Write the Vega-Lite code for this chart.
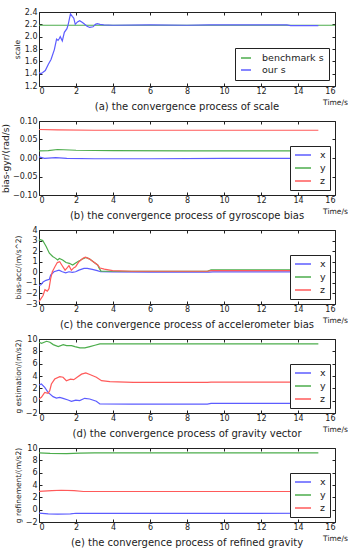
{
  "$schema": "https://vega.github.io/schema/vega-lite/v6.json",
  "padding": {"left": 0, "top": 7, "right": 0, "bottom": 0},
  "bounds": "flush",
  "spacing": 35,
  "config": {
    "font": "DejaVu Sans",
    "view": {"stroke": "#222", "strokeWidth": 1},
    "axis": {
      "grid": false,
      "domain": false,
      "tickSize": -3,
      "tickColor": "#222",
      "labelFontSize": 8,
      "labelColor": "#222",
      "labelPadding": 5,
      "titleFontSize": 7.5,
      "titleFontWeight": "normal",
      "titleColor": "#222",
      "titlePadding": 3
    },
    "legend": {
      "orient": "bottom-right",
      "offset": 5,
      "strokeColor": "#222",
      "fillColor": "white",
      "padding": 4,
      "symbolType": "M-1,0H3",
      "symbolSize": 64,
      "symbolStrokeWidth": 1.5,
      "labelFontSize": 9.5,
      "labelColor": "#222",
      "labelOffset": 16,
      "rowPadding": 3
    },
    "title": {"fontSize": 10, "fontWeight": "normal", "color": "#222", "orient": "bottom", "offset": -4, "anchor": "middle"}
  },
  "resolve": {"scale": {"color": "independent"}, "legend": {"color": "independent"}},
  "datasets": {
    "a": [
      {"t": 0, "v": 2.185, "s": "benchmark s"},
      {"t": 16, "v": 2.185, "s": "benchmark s"},
      {"t": 0, "v": 1.42, "s": "our s"},
      {"t": 0.1, "v": 1.4, "s": "our s"},
      {"t": 0.2, "v": 1.42, "s": "our s"},
      {"t": 0.34, "v": 1.45, "s": "our s"},
      {"t": 0.5, "v": 1.55, "s": "our s"},
      {"t": 0.65, "v": 1.63, "s": "our s"},
      {"t": 0.83, "v": 1.79, "s": "our s"},
      {"t": 0.95, "v": 1.96, "s": "our s"},
      {"t": 1.03, "v": 1.94, "s": "our s"},
      {"t": 1.1, "v": 1.97, "s": "our s"},
      {"t": 1.15, "v": 2.0, "s": "our s"},
      {"t": 1.26, "v": 1.93, "s": "our s"},
      {"t": 1.37, "v": 2.07, "s": "our s"},
      {"t": 1.51, "v": 2.13, "s": "our s"},
      {"t": 1.58, "v": 2.2, "s": "our s"},
      {"t": 1.7, "v": 2.37, "s": "our s"},
      {"t": 1.8, "v": 2.33, "s": "our s"},
      {"t": 1.88, "v": 2.3, "s": "our s"},
      {"t": 1.96, "v": 2.2, "s": "our s"},
      {"t": 2.08, "v": 2.24, "s": "our s"},
      {"t": 2.2, "v": 2.26, "s": "our s"},
      {"t": 2.35, "v": 2.23, "s": "our s"},
      {"t": 2.47, "v": 2.2, "s": "our s"},
      {"t": 2.6, "v": 2.17, "s": "our s"},
      {"t": 2.74, "v": 2.15, "s": "our s"},
      {"t": 2.92, "v": 2.16, "s": "our s"},
      {"t": 3.05, "v": 2.2, "s": "our s"},
      {"t": 3.15, "v": 2.21, "s": "our s"},
      {"t": 3.3, "v": 2.2, "s": "our s"},
      {"t": 3.5, "v": 2.19, "s": "our s"},
      {"t": 4, "v": 2.185, "s": "our s"},
      {"t": 6, "v": 2.19, "s": "our s"},
      {"t": 8, "v": 2.185, "s": "our s"},
      {"t": 9.2, "v": 2.19, "s": "our s"},
      {"t": 10, "v": 2.19, "s": "our s"},
      {"t": 12, "v": 2.19, "s": "our s"},
      {"t": 13.4, "v": 2.19, "s": "our s"},
      {"t": 13.6, "v": 2.18, "s": "our s"},
      {"t": 15.1, "v": 2.18, "s": "our s"}
    ],
    "b": [
      {"t": 0, "v": 0.003, "s": "x"},
      {"t": 0.3, "v": -0.001, "s": "x"},
      {"t": 0.9, "v": 0.001, "s": "x"},
      {"t": 1.5, "v": -0.001, "s": "x"},
      {"t": 3, "v": -0.002, "s": "x"},
      {"t": 6, "v": -0.002, "s": "x"},
      {"t": 10, "v": -0.001, "s": "x"},
      {"t": 15.1, "v": -0.001, "s": "x"},
      {"t": 0, "v": 0.019, "s": "y"},
      {"t": 0.5, "v": 0.02, "s": "y"},
      {"t": 1, "v": 0.023, "s": "y"},
      {"t": 2, "v": 0.021, "s": "y"},
      {"t": 4, "v": 0.02, "s": "y"},
      {"t": 8, "v": 0.019, "s": "y"},
      {"t": 12, "v": 0.019, "s": "y"},
      {"t": 15.1, "v": 0.019, "s": "y"},
      {"t": 0, "v": 0.077, "s": "z"},
      {"t": 1, "v": 0.076, "s": "z"},
      {"t": 3, "v": 0.075, "s": "z"},
      {"t": 8, "v": 0.075, "s": "z"},
      {"t": 15.1, "v": 0.075, "s": "z"}
    ],
    "c": [
      {"t": 0, "v": -1.24, "s": "x"},
      {"t": 0.1, "v": -1.18, "s": "x"},
      {"t": 0.22, "v": -0.92, "s": "x"},
      {"t": 0.38, "v": -0.76, "s": "x"},
      {"t": 0.56, "v": -0.66, "s": "x"},
      {"t": 0.63, "v": -0.27, "s": "x"},
      {"t": 0.81, "v": 0.05, "s": "x"},
      {"t": 1.08, "v": 0.2, "s": "x"},
      {"t": 1.26, "v": 0.05, "s": "x"},
      {"t": 1.44, "v": -0.05, "s": "x"},
      {"t": 1.62, "v": 0.05, "s": "x"},
      {"t": 1.8, "v": 0.0, "s": "x"},
      {"t": 1.98, "v": 0.05, "s": "x"},
      {"t": 2.16, "v": 0.2, "s": "x"},
      {"t": 2.43, "v": 0.37, "s": "x"},
      {"t": 2.61, "v": 0.37, "s": "x"},
      {"t": 2.88, "v": 0.27, "s": "x"},
      {"t": 3.15, "v": 0.15, "s": "x"},
      {"t": 3.33, "v": 0.05, "s": "x"},
      {"t": 4, "v": 0.03, "s": "x"},
      {"t": 6, "v": 0.02, "s": "x"},
      {"t": 9.2, "v": 0.02, "s": "x"},
      {"t": 9.4, "v": 0.04, "s": "x"},
      {"t": 15.1, "v": 0.04, "s": "x"},
      {"t": 0, "v": 2.97, "s": "y"},
      {"t": 0.05, "v": 3.1, "s": "y"},
      {"t": 0.2, "v": 3.0, "s": "y"},
      {"t": 0.38, "v": 2.46, "s": "y"},
      {"t": 0.56, "v": 1.81, "s": "y"},
      {"t": 0.74, "v": 1.5, "s": "y"},
      {"t": 0.88, "v": 1.34, "s": "y"},
      {"t": 1.01, "v": 1.17, "s": "y"},
      {"t": 1.1, "v": 1.3, "s": "y"},
      {"t": 1.28, "v": 1.17, "s": "y"},
      {"t": 1.46, "v": 0.92, "s": "y"},
      {"t": 1.64, "v": 0.85, "s": "y"},
      {"t": 1.82, "v": 0.69, "s": "y"},
      {"t": 1.96, "v": 0.85, "s": "y"},
      {"t": 2.09, "v": 1.0, "s": "y"},
      {"t": 2.2, "v": 1.1, "s": "y"},
      {"t": 2.36, "v": 1.27, "s": "y"},
      {"t": 2.54, "v": 1.4, "s": "y"},
      {"t": 2.72, "v": 1.27, "s": "y"},
      {"t": 2.99, "v": 0.92, "s": "y"},
      {"t": 3.17, "v": 0.69, "s": "y"},
      {"t": 3.26, "v": 0.37, "s": "y"},
      {"t": 3.35, "v": 0.11, "s": "y"},
      {"t": 5, "v": 0.1, "s": "y"},
      {"t": 9.1, "v": 0.1, "s": "y"},
      {"t": 9.3, "v": 0.22, "s": "y"},
      {"t": 15.1, "v": 0.22, "s": "y"},
      {"t": 0, "v": -2.78, "s": "z"},
      {"t": 0.1, "v": -2.52, "s": "z"},
      {"t": 0.22, "v": -2.2, "s": "z"},
      {"t": 0.32, "v": -1.65, "s": "z"},
      {"t": 0.45, "v": -1.78, "s": "z"},
      {"t": 0.54, "v": -1.55, "s": "z"},
      {"t": 0.63, "v": -0.6, "s": "z"},
      {"t": 0.72, "v": 0.05, "s": "z"},
      {"t": 0.86, "v": 0.53, "s": "z"},
      {"t": 0.99, "v": 0.92, "s": "z"},
      {"t": 1.12, "v": 1.0, "s": "z"},
      {"t": 1.23, "v": 0.69, "s": "z"},
      {"t": 1.41, "v": 0.2, "s": "z"},
      {"t": 1.53, "v": 0.44, "s": "z"},
      {"t": 1.62, "v": 0.63, "s": "z"},
      {"t": 1.75, "v": 0.2, "s": "z"},
      {"t": 1.89, "v": 0.44, "s": "z"},
      {"t": 1.98, "v": 0.53, "s": "z"},
      {"t": 2.16, "v": 1.0, "s": "z"},
      {"t": 2.36, "v": 1.3, "s": "z"},
      {"t": 2.5, "v": 1.42, "s": "z"},
      {"t": 2.72, "v": 1.27, "s": "z"},
      {"t": 2.99, "v": 0.92, "s": "z"},
      {"t": 3.17, "v": 0.69, "s": "z"},
      {"t": 3.3, "v": 0.4, "s": "z"},
      {"t": 3.53, "v": 0.3, "s": "z"},
      {"t": 3.98, "v": 0.15, "s": "z"},
      {"t": 5, "v": 0.1, "s": "z"},
      {"t": 9.1, "v": 0.1, "s": "z"},
      {"t": 9.3, "v": 0.15, "s": "z"},
      {"t": 15.1, "v": 0.15, "s": "z"}
    ],
    "d": [
      {"t": 0, "v": 2.54, "s": "x"},
      {"t": 0.13, "v": 2.7, "s": "x"},
      {"t": 0.31, "v": 2.16, "s": "x"},
      {"t": 0.49, "v": 1.35, "s": "x"},
      {"t": 0.76, "v": 0.65, "s": "x"},
      {"t": 0.94, "v": 0.43, "s": "x"},
      {"t": 1.12, "v": 0.54, "s": "x"},
      {"t": 1.3, "v": 0.38, "s": "x"},
      {"t": 1.57, "v": 0.1, "s": "x"},
      {"t": 1.75, "v": -0.1, "s": "x"},
      {"t": 1.99, "v": 0.1, "s": "x"},
      {"t": 2.2, "v": 0.0, "s": "x"},
      {"t": 2.47, "v": 0.38, "s": "x"},
      {"t": 2.74, "v": 0.27, "s": "x"},
      {"t": 3.1, "v": -0.1, "s": "x"},
      {"t": 3.29, "v": -0.54, "s": "x"},
      {"t": 5, "v": -0.55, "s": "x"},
      {"t": 9.1, "v": -0.55, "s": "x"},
      {"t": 9.3, "v": -0.45, "s": "x"},
      {"t": 15.1, "v": -0.45, "s": "x"},
      {"t": 0, "v": 9.47, "s": "y"},
      {"t": 0.14, "v": 9.3, "s": "y"},
      {"t": 0.41, "v": 9.63, "s": "y"},
      {"t": 0.59, "v": 9.47, "s": "y"},
      {"t": 0.77, "v": 9.09, "s": "y"},
      {"t": 1.04, "v": 8.77, "s": "y"},
      {"t": 1.31, "v": 9.09, "s": "y"},
      {"t": 1.49, "v": 8.93, "s": "y"},
      {"t": 1.76, "v": 8.93, "s": "y"},
      {"t": 1.94, "v": 8.77, "s": "y"},
      {"t": 2.21, "v": 8.55, "s": "y"},
      {"t": 2.48, "v": 8.55, "s": "y"},
      {"t": 2.75, "v": 8.77, "s": "y"},
      {"t": 3.02, "v": 8.98, "s": "y"},
      {"t": 3.29, "v": 9.2, "s": "y"},
      {"t": 5, "v": 9.2, "s": "y"},
      {"t": 15.1, "v": 9.2, "s": "y"},
      {"t": 0, "v": 0.27, "s": "z"},
      {"t": 0.13, "v": 0.54, "s": "z"},
      {"t": 0.31, "v": 1.35, "s": "z"},
      {"t": 0.49, "v": 1.2, "s": "z"},
      {"t": 0.58, "v": 1.62, "s": "z"},
      {"t": 0.67, "v": 2.7, "s": "z"},
      {"t": 0.85, "v": 3.5, "s": "z"},
      {"t": 1.12, "v": 3.9, "s": "z"},
      {"t": 1.3, "v": 3.8, "s": "z"},
      {"t": 1.48, "v": 3.24, "s": "z"},
      {"t": 1.7, "v": 3.5, "s": "z"},
      {"t": 1.88, "v": 3.4, "s": "z"},
      {"t": 2.06, "v": 3.8, "s": "z"},
      {"t": 2.3, "v": 4.3, "s": "z"},
      {"t": 2.53, "v": 4.5, "s": "z"},
      {"t": 2.78, "v": 4.2, "s": "z"},
      {"t": 3.1, "v": 3.8, "s": "z"},
      {"t": 3.38, "v": 3.24, "s": "z"},
      {"t": 3.83, "v": 3.1, "s": "z"},
      {"t": 5.1, "v": 2.97, "s": "z"},
      {"t": 9.1, "v": 2.97, "s": "z"},
      {"t": 9.3, "v": 3.02, "s": "z"},
      {"t": 15.1, "v": 3.02, "s": "z"}
    ],
    "e": [
      {"t": 0, "v": -0.55, "s": "x"},
      {"t": 0.5, "v": -0.68, "s": "x"},
      {"t": 1.0, "v": -0.72, "s": "x"},
      {"t": 1.7, "v": -0.68, "s": "x"},
      {"t": 2.0, "v": -0.58, "s": "x"},
      {"t": 2.5, "v": -0.6, "s": "x"},
      {"t": 15.1, "v": -0.58, "s": "x"},
      {"t": 0, "v": 9.22, "s": "y"},
      {"t": 0.6, "v": 9.12, "s": "y"},
      {"t": 1.5, "v": 9.1, "s": "y"},
      {"t": 2.2, "v": 9.18, "s": "y"},
      {"t": 3, "v": 9.2, "s": "y"},
      {"t": 15.1, "v": 9.2, "s": "y"},
      {"t": 0, "v": 2.96, "s": "z"},
      {"t": 0.7, "v": 3.1, "s": "z"},
      {"t": 1.2, "v": 3.15, "s": "z"},
      {"t": 1.9, "v": 3.1, "s": "z"},
      {"t": 2.4, "v": 2.95, "s": "z"},
      {"t": 15.1, "v": 2.95, "s": "z"}
    ]
  },
  "vconcat": [
    {
      "width": 296, "height": 74,
      "data": {"name": "a"},
      "title": {"text": "(a) the convergence process of scale"},
      "layer": [
        {
          "mark": {"type": "line", "strokeWidth": 1.2},
          "encoding": {
            "x": {"field": "t", "type": "quantitative", "scale": {"domain": [0, 16]}, "axis": {"values": [0, 2, 4, 6, 8, 10, 12, 14, 16], "title": "Time/s", "titleX": 296, "titleY": 16, "titleAlign": "center", "titleBaseline": "middle", "labelPadding": 4}},
            "y": {"field": "v", "type": "quantitative", "scale": {"domain": [1.2, 2.4]}, "axis": {"values": [1.2, 1.4, 1.6, 1.8, 2.0, 2.2, 2.4], "format": ".1f", "title": "scale"}},
            "color": {"field": "s", "type": "nominal", "scale": {"domain": ["benchmark s", "our s"], "range": ["#4cad4c", "#5c5cff"]}, "legend": {"title": null, "symbolType": "M-1,0H1.5", "labelOffset": 12, "padding": 5, "rowPadding": 2, "offset": 6}}
          }
        },
        {
          "mark": {"type": "line", "opacity": 0},
          "encoding": {
            "x": {"field": "t", "type": "quantitative", "scale": {"domain": [0, 16]}, "axis": {"orient": "top", "values": [0, 2, 4, 6, 8, 10, 12, 14, 16], "labels": false, "title": null}},
            "y": {"field": "v", "type": "quantitative", "scale": {"domain": [1.2, 2.4]}, "axis": {"orient": "right", "values": [1.2, 1.4, 1.6, 1.8, 2.0, 2.2, 2.4], "labels": false, "title": null}},
            "detail": {"field": "s"}
          }
        }
      ],
      "resolve": {"axis": {"x": "independent", "y": "independent"}}
    },
    {
      "width": 296, "height": 74,
      "data": {"name": "b"},
      "title": {"text": "(b) the convergence process of gyroscope bias"},
      "layer": [
        {
          "mark": {"type": "line", "strokeWidth": 1.2},
          "encoding": {
            "x": {"field": "t", "type": "quantitative", "scale": {"domain": [0, 16]}, "axis": {"values": [0, 2, 4, 6, 8, 10, 12, 14, 16], "title": "Time/s", "titleX": 296, "titleY": 16, "titleAlign": "center", "titleBaseline": "middle", "labelPadding": 4}},
            "y": {"field": "v", "type": "quantitative", "scale": {"domain": [-0.1, 0.1]}, "axis": {"values": [-0.1, -0.05, 0, 0.05, 0.1], "format": ".2f", "title": "bias-gyr/(rad/s)", "titleFontSize": 9, "titlePadding": 2}},
            "color": {"field": "s", "type": "nominal", "scale": {"domain": ["x", "y", "z"], "range": ["#5c5cff", "#4cad4c", "#ff5a5a"]}, "legend": {"title": null}}
          }
        },
        {
          "mark": {"type": "line", "opacity": 0},
          "encoding": {
            "x": {"field": "t", "type": "quantitative", "scale": {"domain": [0, 16]}, "axis": {"orient": "top", "values": [0, 2, 4, 6, 8, 10, 12, 14, 16], "labels": false, "title": null}},
            "y": {"field": "v", "type": "quantitative", "scale": {"domain": [-0.1, 0.1]}, "axis": {"orient": "right", "values": [-0.1, -0.05, 0, 0.05, 0.1], "labels": false, "title": null}},
            "detail": {"field": "s"}
          }
        }
      ],
      "resolve": {"axis": {"x": "independent", "y": "independent"}}
    },
    {
      "width": 296, "height": 74,
      "data": {"name": "c"},
      "title": {"text": "(c) the convergence process of accelerometer bias"},
      "layer": [
        {
          "mark": {"type": "line", "strokeWidth": 1.2},
          "encoding": {
            "x": {"field": "t", "type": "quantitative", "scale": {"domain": [0, 16]}, "axis": {"values": [0, 2, 4, 6, 8, 10, 12, 14, 16], "title": "Time/s", "titleX": 296, "titleY": 16, "titleAlign": "center", "titleBaseline": "middle", "labelPadding": 4}},
            "y": {"field": "v", "type": "quantitative", "scale": {"domain": [-3, 4]}, "axis": {"values": [-3, -2, -1, 0, 1, 2, 3, 4], "format": "d", "title": "bias-acc/(m/s^2)"}},
            "color": {"field": "s", "type": "nominal", "scale": {"domain": ["x", "y", "z"], "range": ["#5c5cff", "#4cad4c", "#ff5a5a"]}, "legend": {"title": null}}
          }
        },
        {
          "mark": {"type": "line", "opacity": 0},
          "encoding": {
            "x": {"field": "t", "type": "quantitative", "scale": {"domain": [0, 16]}, "axis": {"orient": "top", "values": [0, 2, 4, 6, 8, 10, 12, 14, 16], "labels": false, "title": null}},
            "y": {"field": "v", "type": "quantitative", "scale": {"domain": [-3, 4]}, "axis": {"orient": "right", "values": [-3, -2, -1, 0, 1, 2, 3, 4], "labels": false, "title": null}},
            "detail": {"field": "s"}
          }
        }
      ],
      "resolve": {"axis": {"x": "independent", "y": "independent"}}
    },
    {
      "width": 296, "height": 74,
      "data": {"name": "d"},
      "title": {"text": "(d) the convergence process of gravity vector"},
      "layer": [
        {
          "mark": {"type": "line", "strokeWidth": 1.2},
          "encoding": {
            "x": {"field": "t", "type": "quantitative", "scale": {"domain": [0, 16]}, "axis": {"values": [0, 2, 4, 6, 8, 10, 12, 14, 16], "title": "Time/s", "titleX": 296, "titleY": 16, "titleAlign": "center", "titleBaseline": "middle", "labelPadding": 4}},
            "y": {"field": "v", "type": "quantitative", "scale": {"domain": [-2, 10]}, "axis": {"values": [-2, 0, 2, 4, 6, 8, 10], "format": "d", "title": "g estimation/(m/s2)"}},
            "color": {"field": "s", "type": "nominal", "scale": {"domain": ["x", "y", "z"], "range": ["#5c5cff", "#4cad4c", "#ff5a5a"]}, "legend": {"title": null}}
          }
        },
        {
          "mark": {"type": "line", "opacity": 0},
          "encoding": {
            "x": {"field": "t", "type": "quantitative", "scale": {"domain": [0, 16]}, "axis": {"orient": "top", "values": [0, 2, 4, 6, 8, 10, 12, 14, 16], "labels": false, "title": null}},
            "y": {"field": "v", "type": "quantitative", "scale": {"domain": [-2, 10]}, "axis": {"orient": "right", "values": [-2, 0, 2, 4, 6, 8, 10], "labels": false, "title": null}},
            "detail": {"field": "s"}
          }
        }
      ],
      "resolve": {"axis": {"x": "independent", "y": "independent"}}
    },
    {
      "width": 296, "height": 74,
      "data": {"name": "e"},
      "title": {"text": "(e) the convergence process of refined gravity"},
      "layer": [
        {
          "mark": {"type": "line", "strokeWidth": 1.2},
          "encoding": {
            "x": {"field": "t", "type": "quantitative", "scale": {"domain": [0, 16]}, "axis": {"values": [0, 2, 4, 6, 8, 10, 12, 14, 16], "title": "Time/s", "titleX": 296, "titleY": 16, "titleAlign": "center", "titleBaseline": "middle", "labelPadding": 4}},
            "y": {"field": "v", "type": "quantitative", "scale": {"domain": [-2, 10]}, "axis": {"values": [-2, 0, 2, 4, 6, 8, 10], "format": "d", "title": "g refinement/(m/s2)"}},
            "color": {"field": "s", "type": "nominal", "scale": {"domain": ["x", "y", "z"], "range": ["#5c5cff", "#4cad4c", "#ff5a5a"]}, "legend": {"title": null}}
          }
        },
        {
          "mark": {"type": "line", "opacity": 0},
          "encoding": {
            "x": {"field": "t", "type": "quantitative", "scale": {"domain": [0, 16]}, "axis": {"orient": "top", "values": [0, 2, 4, 6, 8, 10, 12, 14, 16], "labels": false, "title": null}},
            "y": {"field": "v", "type": "quantitative", "scale": {"domain": [-2, 10]}, "axis": {"orient": "right", "values": [-2, 0, 2, 4, 6, 8, 10], "labels": false, "title": null}},
            "detail": {"field": "s"}
          }
        }
      ],
      "resolve": {"axis": {"x": "independent", "y": "independent"}}
    }
  ]
}
